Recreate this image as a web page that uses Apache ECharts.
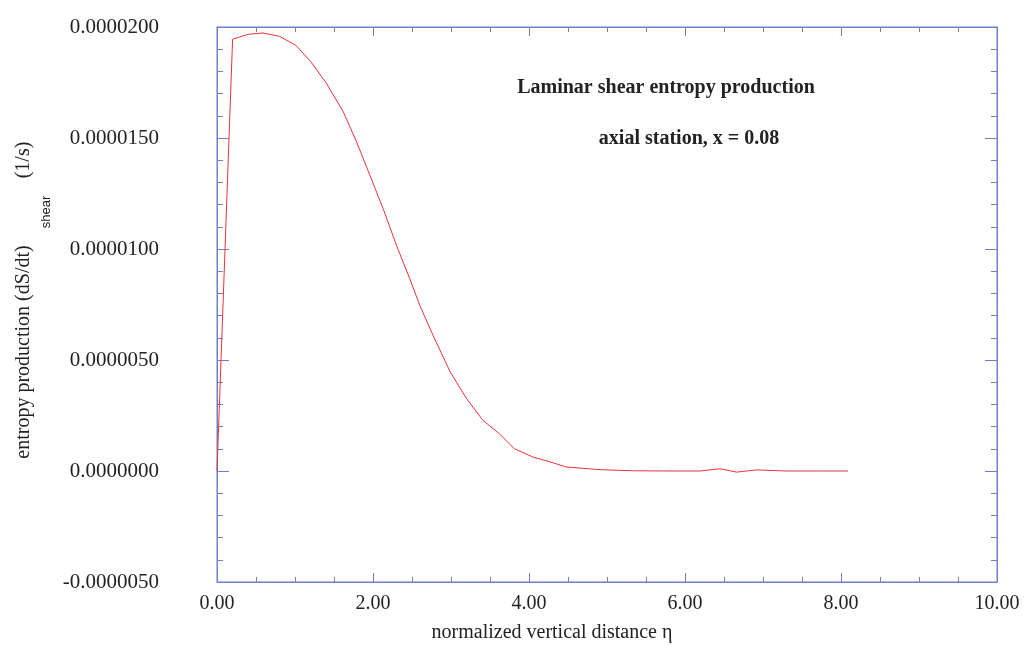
<!DOCTYPE html>
<html><head><meta charset="utf-8">
<script src="https://cdn.jsdelivr.net/npm/echarts@6/dist/echarts.min.js"></script>
<style>html,body{margin:0;padding:0;background:#fff}#c{width:1024px;height:650px}</style>
</head><body><div id="c"></div>
<script>
const eta = [0,0.20,0.40,0.59,0.80,1.01,1.20,1.40,1.62,1.79,1.96,2.13,2.30,2.47,2.60,2.77,2.99,3.20,3.41,3.62,3.81,4.05,4.27,4.48,4.91,5.33,5.80,6.19,6.45,6.66,6.92,7.30,7.70,8.09];
const sShear = [0,19.45,19.67,19.73,19.58,19.18,18.45,17.48,16.17,14.82,13.32,11.82,10.17,8.67,7.46,6.11,4.46,3.26,2.28,1.68,1.01,0.63,0.41,0.18,0.06,0.01,0,0,0.1,-0.05,0.05,0,0,0];
const xTicks = [0,2,4,6,8,10];
const yTicks = [-5e-6,0,5e-6,1e-5,1.5e-5,2e-5];
const titleLines = ['Laminar shear entropy production','axial station, x = 0.08'];

const blue = '#6f7fc8';
const serif = '"Liberation Serif","Times New Roman",serif';
function xAx(pos, labels){
  return {type:'value',min:0,max:10,interval:2,position:pos,
    axisLine:{show:true,onZero:false,lineStyle:{color:blue}},
    axisTick:{show:true,inside:true,length:9,lineStyle:{color:blue}},
    minorTick:{show:true,splitNumber:4,length:5,lineStyle:{color:blue}},
    splitLine:{show:false},
    axisLabel:{show:labels,color:'#222',fontFamily:serif,fontSize:20,margin:12,formatter:v=>v.toFixed(2)}};
}
function yAx(pos, labels){
  return {type:'value',min:-5e-6,max:2e-5,interval:5e-6,position:pos,
    axisLine:{show:true,onZero:false,lineStyle:{color:blue}},
    axisTick:{show:true,inside:true,length:12,lineStyle:{color:blue}},
    minorTick:{show:true,splitNumber:5,length:6,lineStyle:{color:blue}},
    splitLine:{show:false},
    axisLabel:{show:labels,color:'#222',fontFamily:serif,fontSize:21,margin:58,formatter:v=>(Math.abs(v)<1e-12?0:v).toFixed(7)}};
}
const chart = echarts.init(document.getElementById('c'));
chart.setOption({
  animation:false,
  grid:{left:217,right:27,top:27,bottom:68,show:true,borderColor:blue,borderWidth:1},
  xAxis:[xAx('bottom',true),xAx('top',false)],
  yAxis:[yAx('left',true),yAx('right',false)],
  graphic:[
    {type:'text',x:666,y:88,style:{text:titleLines[0],font:'bold 20px '+serif,fill:'#222',textAlign:'center',textVerticalAlign:'middle'}},
    {type:'text',x:689,y:139,style:{text:titleLines[1],font:'bold 20px '+serif,fill:'#222',textAlign:'center',textVerticalAlign:'middle'}},
    {type:'text',x:552,y:633,style:{text:'normalized vertical distance η',font:'20px '+serif,fill:'#222',textAlign:'center',textVerticalAlign:'middle'}},
    {type:'text',x:24,y:352,rotation:Math.PI/2,style:{text:'entropy production (dS/dt)',font:'20px '+serif,fill:'#222',textAlign:'center',textVerticalAlign:'middle'}},
    {type:'text',x:46,y:212,rotation:Math.PI/2,style:{text:'shear',font:'13px "Liberation Sans",Arial,sans-serif',fill:'#222',textAlign:'center',textVerticalAlign:'middle'}},
    {type:'text',x:24,y:160,rotation:Math.PI/2,style:{text:'(1/s)',font:'20px '+serif,fill:'#222',textAlign:'center',textVerticalAlign:'middle'}}
  ],
  series:[{type:'line',showSymbol:false,data:eta.map((x,i)=>[x,sShear[i]*1e-6]),
    lineStyle:{color:'#e8323c',width:1}}]
});
</script></body></html>
